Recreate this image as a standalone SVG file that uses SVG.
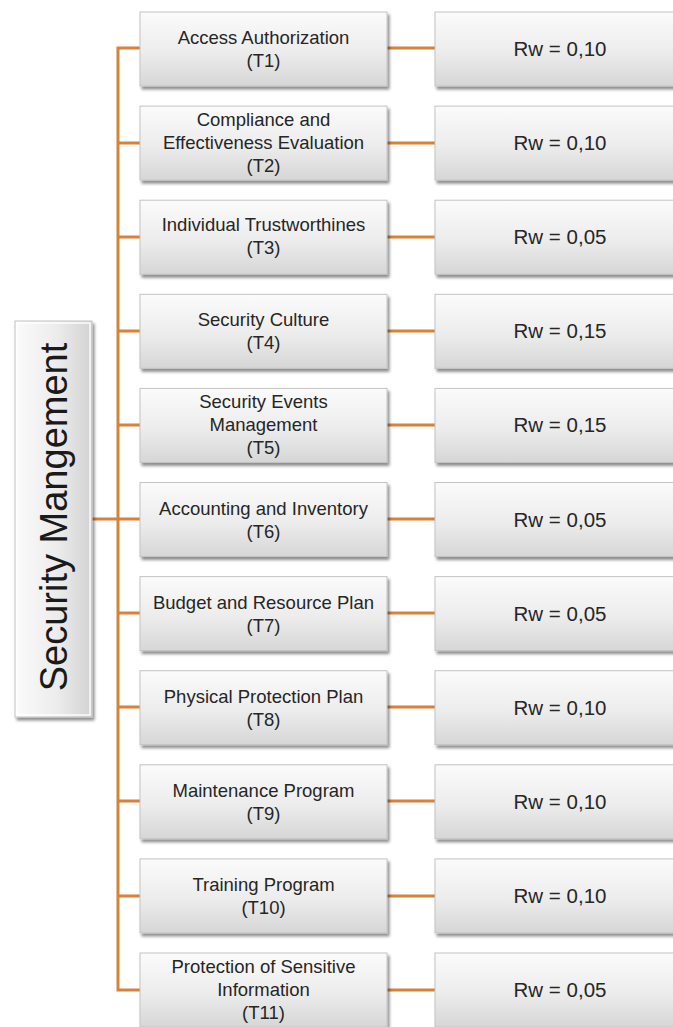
<svg xmlns="http://www.w3.org/2000/svg" width="673" height="1027" viewBox="0 0 673 1027">
  <defs>
    <linearGradient id="boxFill" x1="0" y1="0" x2="0" y2="1">
      <stop offset="0" stop-color="#fbfbfb"/>
      <stop offset="0.55" stop-color="#ececec"/>
      <stop offset="1" stop-color="#d6d6d6"/>
    </linearGradient>
    <linearGradient id="rootFill" x1="0" y1="0" x2="1" y2="0">
      <stop offset="0" stop-color="#fbfbfb"/>
      <stop offset="0.55" stop-color="#ececec"/>
      <stop offset="1" stop-color="#d2d2d2"/>
    </linearGradient>
    <filter id="shadow" x="-10%" y="-10%" width="130%" height="140%">
      <feGaussianBlur in="SourceAlpha" stdDeviation="1.6"/>
      <feOffset dx="2" dy="3" result="b"/>
      <feComponentTransfer><feFuncA type="linear" slope="0.45"/></feComponentTransfer>
      <feMerge><feMergeNode/><feMergeNode in="SourceGraphic"/></feMerge>
    </filter>
  </defs>
  <style>
    .box { fill: url(#boxFill); stroke: #c4c4c4; stroke-width: 1; filter: url(#shadow); }
    .root { fill: url(#rootFill); stroke: #c4c4c4; stroke-width: 1; filter: url(#shadow); }
    .bevel { fill: none; stroke: #ffffff; stroke-width: 1.5; opacity: 0.9; }
    .lbl { font-family: "Liberation Sans", Arial, sans-serif; font-size: 18.5px; fill: #262626; text-anchor: middle; }
    .rw { font-family: "Liberation Sans", Arial, sans-serif; font-size: 20.5px; fill: #262626; text-anchor: middle; }
    .title { font-family: "Liberation Sans", Arial, sans-serif; font-size: 38px; fill: #1a1a1a; text-anchor: middle; }
    .wire { stroke: #d6823a; stroke-width: 3; fill: none; }
  </style>

  <rect width="673" height="1027" fill="#ffffff"/>

  <!-- connectors -->
  <g id="connectors">
    <path class="wire" d="M140 48 H118 V990 H140"/>
    <path class="wire" d="M92 519 H118"/>
    <path class="wire" d="M118 143 H140 M118 237 H140 M118 331 H140 M118 425 H140 M118 519 H140 M118 613 H140 M118 707 H140 M118 801 H140 M118 896 H140"/>
    <path class="wire" d="M387 48 H435 M387 143 H435 M387 237 H435 M387 331 H435 M387 425 H435 M387 519 H435 M387 613 H435 M387 707 H435 M387 801 H435 M387 896 H435 M387 990 H435"/>
  </g>

  <!-- root -->
  <g id="root">
    <rect class="root" x="15" y="321" width="77" height="396"/>
    <rect class="bevel" x="17" y="323" width="73" height="392"/>
    <text class="title" transform="translate(67 517) rotate(-90)">Security Mangement</text>
  </g>

  <!-- topics -->
  <g id="t1" transform="translate(0 12)">
    <rect class="box" x="140" y="0" width="247" height="74"/>
    <text class="lbl" x="263.5" y="32">Access Authorization</text>
    <text class="lbl" x="263.5" y="55">(T1)</text>
  </g>
  <g id="t2" transform="translate(0 106.1)">
    <rect class="box" x="140" y="0" width="247" height="74"/>
    <text class="lbl" x="263.5" y="20">Compliance and</text>
    <text class="lbl" x="263.5" y="43">Effectiveness Evaluation</text>
    <text class="lbl" x="263.5" y="66">(T2)</text>
  </g>
  <g id="t3" transform="translate(0 200.2)">
    <rect class="box" x="140" y="0" width="247" height="74"/>
    <text class="lbl" x="263.5" y="31">Individual Trustworthines</text>
    <text class="lbl" x="263.5" y="54">(T3)</text>
  </g>
  <g id="t4" transform="translate(0 294.3)">
    <rect class="box" x="140" y="0" width="247" height="74"/>
    <text class="lbl" x="263.5" y="32">Security Culture</text>
    <text class="lbl" x="263.5" y="55">(T4)</text>
  </g>
  <g id="t5" transform="translate(0 388.4)">
    <rect class="box" x="140" y="0" width="247" height="74"/>
    <text class="lbl" x="263.5" y="20">Security Events</text>
    <text class="lbl" x="263.5" y="43">Management</text>
    <text class="lbl" x="263.5" y="66">(T5)</text>
  </g>
  <g id="t6" transform="translate(0 482.5)">
    <rect class="box" x="140" y="0" width="247" height="74"/>
    <text class="lbl" x="263.5" y="32">Accounting and Inventory</text>
    <text class="lbl" x="263.5" y="55">(T6)</text>
  </g>
  <g id="t7" transform="translate(0 576.6)">
    <rect class="box" x="140" y="0" width="247" height="74"/>
    <text class="lbl" x="263.5" y="32">Budget and Resource Plan</text>
    <text class="lbl" x="263.5" y="55">(T7)</text>
  </g>
  <g id="t8" transform="translate(0 670.7)">
    <rect class="box" x="140" y="0" width="247" height="74"/>
    <text class="lbl" x="263.5" y="32">Physical Protection Plan</text>
    <text class="lbl" x="263.5" y="55">(T8)</text>
  </g>
  <g id="t9" transform="translate(0 764.8)">
    <rect class="box" x="140" y="0" width="247" height="74"/>
    <text class="lbl" x="263.5" y="32">Maintenance Program</text>
    <text class="lbl" x="263.5" y="55">(T9)</text>
  </g>
  <g id="t10" transform="translate(0 858.9)">
    <rect class="box" x="140" y="0" width="247" height="74"/>
    <text class="lbl" x="263.5" y="32">Training Program</text>
    <text class="lbl" x="263.5" y="55">(T10)</text>
  </g>
  <g id="t11" transform="translate(0 953)">
    <rect class="box" x="140" y="0" width="247" height="74"/>
    <text class="lbl" x="263.5" y="20">Protection of Sensitive</text>
    <text class="lbl" x="263.5" y="43">Information</text>
    <text class="lbl" x="263.5" y="66">(T11)</text>
  </g>

  <!-- weights -->
  <g id="w1" transform="translate(0 12)">
    <rect class="box" x="435" y="0" width="250" height="74"/>
    <text class="rw" x="560" y="44">Rw = 0,10</text>
  </g>
  <g id="w2" transform="translate(0 106.1)">
    <rect class="box" x="435" y="0" width="250" height="74"/>
    <text class="rw" x="560" y="44">Rw = 0,10</text>
  </g>
  <g id="w3" transform="translate(0 200.2)">
    <rect class="box" x="435" y="0" width="250" height="74"/>
    <text class="rw" x="560" y="44">Rw = 0,05</text>
  </g>
  <g id="w4" transform="translate(0 294.3)">
    <rect class="box" x="435" y="0" width="250" height="74"/>
    <text class="rw" x="560" y="44">Rw = 0,15</text>
  </g>
  <g id="w5" transform="translate(0 388.4)">
    <rect class="box" x="435" y="0" width="250" height="74"/>
    <text class="rw" x="560" y="44">Rw = 0,15</text>
  </g>
  <g id="w6" transform="translate(0 482.5)">
    <rect class="box" x="435" y="0" width="250" height="74"/>
    <text class="rw" x="560" y="44">Rw = 0,05</text>
  </g>
  <g id="w7" transform="translate(0 576.6)">
    <rect class="box" x="435" y="0" width="250" height="74"/>
    <text class="rw" x="560" y="44">Rw = 0,05</text>
  </g>
  <g id="w8" transform="translate(0 670.7)">
    <rect class="box" x="435" y="0" width="250" height="74"/>
    <text class="rw" x="560" y="44">Rw = 0,10</text>
  </g>
  <g id="w9" transform="translate(0 764.8)">
    <rect class="box" x="435" y="0" width="250" height="74"/>
    <text class="rw" x="560" y="44">Rw = 0,10</text>
  </g>
  <g id="w10" transform="translate(0 858.9)">
    <rect class="box" x="435" y="0" width="250" height="74"/>
    <text class="rw" x="560" y="44">Rw = 0,10</text>
  </g>
  <g id="w11" transform="translate(0 953)">
    <rect class="box" x="435" y="0" width="250" height="74"/>
    <text class="rw" x="560" y="44">Rw = 0,05</text>
  </g>
</svg>
